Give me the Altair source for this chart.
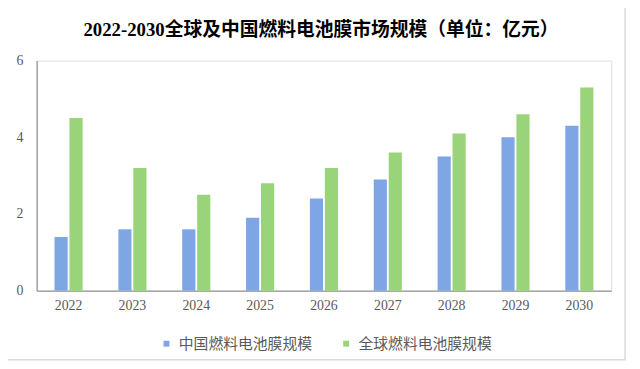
import altair as alt
import pandas as pd

years = ["2022", "2023", "2024", "2025", "2026", "2027", "2028", "2029", "2030"]
china = [1.4, 1.6, 1.6, 1.9, 2.4, 2.9, 3.5, 4.0, 4.3]
world = [4.5, 3.2, 2.5, 2.8, 3.2, 3.6, 4.1, 4.6, 5.3]
series = ["中国燃料电池膜规模", "全球燃料电池膜规模"]
colors = ["#7FA6E4", "#9AD47A"]
title_text = "2022-2030全球及中国燃料电池膜市场规模（单位：亿元）"

rows = []
for y, c, w in zip(years, china, world):
    rows.append({"year": y, "series": series[0], "value": c})
    rows.append({"year": y, "series": series[1], "value": w})
df = pd.DataFrame(rows)

W, H = 582, 233

bars = alt.Chart(df).mark_bar().encode(
    x=alt.X("year:N", sort=years,
            scale=alt.Scale(paddingInner=0.56, paddingOuter=0.28),
            axis=alt.Axis(title=None, labelAngle=0, ticks=False,
                          labelFont="Liberation Serif", labelFontSize=14,
                          labelColor="#595959", labelPadding=8,
                          domainColor="#7f7f7f")),
    xOffset=alt.XOffset("series:N", sort=series,
                        scale=alt.Scale(paddingInner=0.12)),
    y=alt.Y("value:Q", scale=alt.Scale(domain=[0, 6]),
            axis=alt.Axis(title=None, values=[0, 2, 4, 6], grid=False,
                          ticks=False, labelFont="Liberation Serif",
                          labelFontSize=14, labelColor="#595959",
                          labelPadding=14, domainColor="#7f7f7f")),
    color=alt.Color("series:N", sort=series,
                    scale=alt.Scale(domain=series, range=colors),
                    legend=alt.Legend(title=None, orient="none",
                                      legendX=124, legendY=279,
                                      direction="horizontal",
                                      symbolType="square", symbolSize=36,
                                      labelFont="Noto Sans CJK SC",
                                      labelFontSize=15, labelColor="#595959",
                                      columnPadding=26, labelOffset=5)),
)

frame = alt.Chart(pd.DataFrame({"a": [0]})).mark_rect(
    fill="transparent", stroke="#d9d9d9", strokeWidth=1.5
).encode(x=alt.value(-32), x2=alt.value(596), y=alt.value(-54), y2=alt.value(303))

title = alt.Chart(pd.DataFrame({"t": [title_text]})).mark_text(
    font="Liberation Serif, Noto Sans CJK SC", fontSize=19,
    fontWeight="bold", color="#000000", align="center", baseline="middle"
).encode(text="t:N", x=alt.value(W / 2 - 3), y=alt.value(-31))

chart = alt.layer(frame, bars, title).properties(
    width=W, height=H,
    padding={"left": 29, "top": 51, "right": 21, "bottom": 69},
    autosize=alt.AutoSizeParams(type="none"),
).configure_view(stroke=None).configure(background="white")

chart.save("out.html", embed_options={"renderer": "svg", "actions": False})
